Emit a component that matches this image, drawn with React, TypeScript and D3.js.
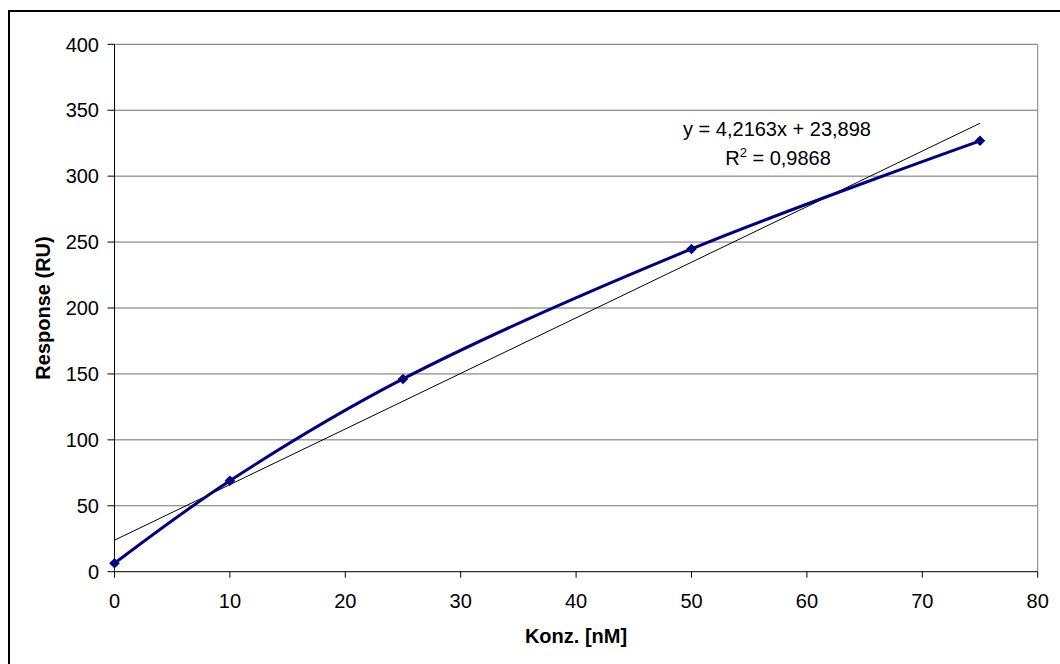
import React from "react";
import * as d3 from "d3";

const concentrations = [0, 10, 25, 50, 75];
const responses = [6.4, 69, 146.2, 244.8, 326.8];
const xTicks = [0, 10, 20, 30, 40, 50, 60, 70, 80];
const yTicks = [0, 50, 100, 150, 200, 250, 300, 350, 400];
const trendSlope = 4.2163;
const trendIntercept = 23.898;
const equationLabel = "y = 4,2163x + 23,898";
const r2Value = "0,9868";
const xTitle = "Konz. [nM]";
const yTitle = "Response (RU)";

const W = 1060;
const H = 664;
const L = 114.5;
const R = 1037.7;
const T = 44.3;
const B = 571.7;
const FONT = "'Liberation Sans', Arial, sans-serif";
const FS = 20;

export default function App() {
  const x = d3.scaleLinear().domain([0, 80]).range([L, R]);
  const y = d3.scaleLinear().domain([0, 400]).range([B, T]);
  const pts: [number, number][] = concentrations.map((c, i) => [c, responses[i]]);
  const line = d3
    .line<[number, number]>()
    .x((d) => x(d[0]))
    .y((d) => y(d[1]))
    .curve(d3.curveCatmullRom.alpha(0.5));
  const diamond = d3.symbol().type(d3.symbolSquare).size(56)();
  const tx0 = 0;
  const tx1 = 75;

  return (
    <svg
      width={W}
      height={H}
      style={{ position: "absolute", left: 0, top: 0, display: "block" }}
      fontFamily={FONT}
    >
      <rect x={0} y={0} width={W} height={H} fill="#fff" />
      <rect x={9} y={11} width={W + 20} height={H + 20} fill="none" stroke="#000" strokeWidth={2} />
      {/* gridlines */}
      {yTicks.filter((t) => t > 0).map((t) => (
        <line key={t} x1={L} x2={R} y1={y(t)} y2={y(t)} stroke="#707070" strokeWidth={1} />
      ))}
      <line x1={R} x2={R} y1={T} y2={B} stroke="#808080" strokeWidth={1} />
      {/* axes */}
      <line x1={L} x2={L} y1={T} y2={B} stroke="#000" strokeWidth={1} />
      <line x1={L} x2={R} y1={B} y2={B} stroke="#000" strokeWidth={1} />
      {yTicks.map((t) => (
        <g key={t}>
          <line x1={L - 7} x2={L} y1={y(t)} y2={y(t)} stroke="#000" />
          <text x={99} y={y(t)} dy="0.36em" textAnchor="end" fontSize={FS} fill="#000">
            {t}
          </text>
        </g>
      ))}
      {xTicks.map((t) => (
        <g key={t}>
          <line x1={x(t)} x2={x(t)} y1={B} y2={B + 6} stroke="#000" />
          <text x={x(t)} y={608} textAnchor="middle" fontSize={FS} fill="#000">
            {t}
          </text>
        </g>
      ))}
      {/* trendline */}
      <line
        x1={x(tx0)}
        y1={y(trendSlope * tx0 + trendIntercept)}
        x2={x(tx1)}
        y2={y(trendSlope * tx1 + trendIntercept)}
        stroke="#000"
        strokeWidth={1}
      />
      {/* data line */}
      <path d={line(pts) || ""} fill="none" stroke="#000080" strokeWidth={3} />
      {pts.map((p, i) => (
        <path
          key={i}
          d={diamond || ""}
          transform={`translate(${x(p[0])},${y(p[1])}) rotate(45)`}
          fill="#000080"
        />
      ))}
      {/* equation */}
      <text x={777} y={135.5} textAnchor="middle" fontSize={FS} fill="#000">
        {equationLabel}
      </text>
      <text x={778} y={165} textAnchor="middle" fontSize={FS} fill="#000">
        R<tspan dy={-8} fontSize={13}>2</tspan>
        <tspan dy={8}>{" = " + r2Value}</tspan>
      </text>
      {/* titles */}
      <text x={576} y={643} textAnchor="middle" fontSize={FS} fontWeight="bold" fill="#000">
        {xTitle}
      </text>
      <text
        transform={`translate(50,${(T + B) / 2}) rotate(-90)`}
        textAnchor="middle"
        fontSize={FS}
        fontWeight="bold"
        fill="#000"
      >
        {yTitle}
      </text>
    </svg>
  );
}
